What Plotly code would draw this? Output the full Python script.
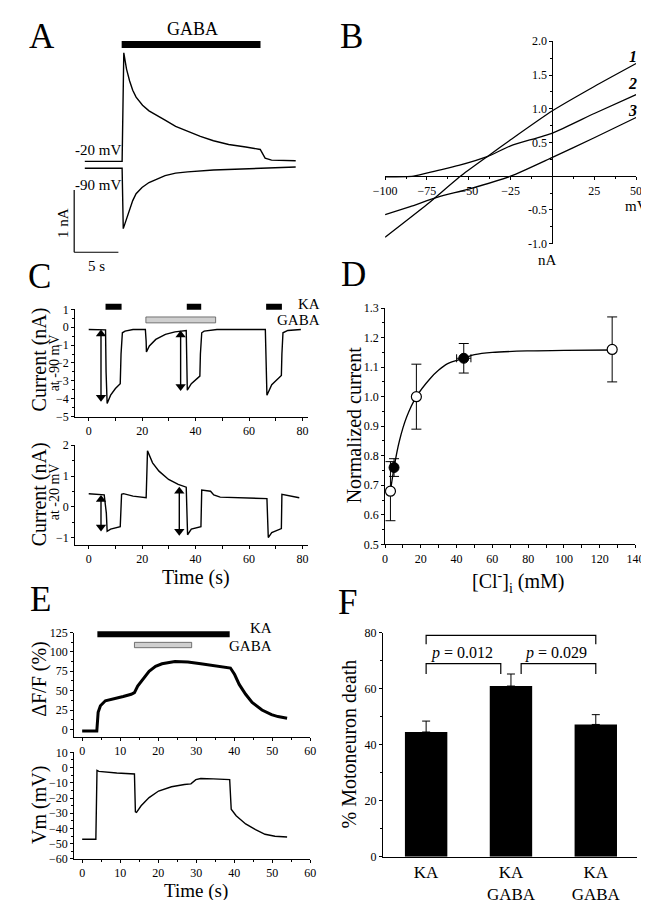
import plotly.graph_objects as go

FONT = "Liberation Serif"
W, H = 649, 900

# ---------------- DATA ----------------
# Panel A: GABA-evoked currents (time s, current nA)
a_t_m20 = [-4.27, -0.05, 0.14, 0.45, 0.80, 1.15, 1.53, 2.26, 2.99, 3.9, 4.81, 6.0, 7.36, 8.8, 10.28, 12.0, 13.93, 15.57, 16.12, 16.85, 19.58]
a_i_m20 = [-0.01, -0.01, 1.73, 1.47, 1.28, 1.13, 1.02, 0.89, 0.80, 0.72, 0.65, 0.55, 0.47, 0.39, 0.32, 0.26, 0.22, 0.18, 0.04, 0.01, 0.0]
a_t_m90 = [-4.27, -0.05, 0.08, 0.44, 0.80, 1.15, 1.53, 2.2, 2.99, 3.9, 4.81, 6.0, 7.36, 10.28, 15.75, 19.58]
a_i_m90 = [-0.12, -0.12, -1.09, -0.93, -0.77, -0.64, -0.53, -0.43, -0.35, -0.29, -0.24, -0.20, -0.18, -0.15, -0.12, -0.10]
a_gaba = [-0.1, 15.6]
a_scale_nA = 1
a_scale_s = 5

# Panel B: I-V curves (mV, nA)
b_v1 = [-100, -75, -55, -39, -25, 0, 25, 50]
b_i1 = [-0.905, -0.42, 0.0, 0.29, 0.54, 0.97, 1.33, 1.67]
b_v2 = [-100, -83, -69.5, -56, -39, -25, 0, 25, 50]
b_i2 = [-0.01, 0.0, 0.08, 0.16, 0.29, 0.45, 0.64, 0.93, 1.21]
b_v3 = [-100, -85, -68.5, -50, -25, 0, 25, 50]
b_i3 = [-0.57, -0.45, -0.31, -0.19, 0.0, 0.28, 0.57, 0.87]

# Panel C: KA currents (time s, nA)
c_t_top = [0, 6.3, 6.5, 6.9, 8.2, 10.0, 11.8, 12.1, 12.6, 13.6, 16.6, 21.2, 21.5, 21.6, 22.7, 25.1, 28.7, 32.3, 36.5,
           36.7, 36.9, 38.4, 40.2, 41.6, 41.8, 42.3, 43.2, 48.0, 66.1, 66.4, 66.7, 68.5, 70.9, 72.1, 72.3, 72.7, 74.5, 79.4]
c_i_top = [-0.13, -0.15, -2.5, -4.26, -3.8, -3.43, -3.16, -1.5, -0.31, -0.22, -0.13, -0.13, -0.8, -1.38, -1.05, -0.68, -0.40, -0.26, -0.18,
           -2.0, -3.52, -3.16, -2.92, -2.73, -1.5, -0.31, -0.22, -0.13, -0.13, -2.0, -3.8, -3.21, -2.84, -2.70, -1.5, -0.31, -0.18, -0.13]
c_t_bot = [0, 5.8, 6.6, 6.9, 8.2, 11.8, 12.3, 13.0, 16.6, 21.5, 21.8, 22.0, 23.9, 26.3, 29.9, 33.5, 36.5,
           36.8, 37.0, 38.4, 42.0, 42.3, 45.6, 46.8, 49.2, 66.7, 66.9, 67.2, 68.5, 69.7, 72.1, 72.3, 74.5, 78.8]
c_i_bot = [0.43, 0.39, -0.2, -0.79, -0.72, -0.64, 0.41, 0.43, 0.35, 0.30, 1.2, 1.82, 1.43, 1.16, 0.89, 0.73, 0.64,
           -0.1, -0.90, -0.72, -0.64, 0.55, 0.51, 0.39, 0.32, 0.27, -0.3, -0.99, -0.83, -0.78, -0.70, 0.41, 0.38, 0.30]
c_ka_on = [6.3, 36.7, 66.4]
c_ka_off = [12.3, 42.1, 72.3]
c_gaba = [21.4, 47.5]
# double-headed measurement arrows (time, arrowhead centres)
c_arrow_t_top = [4.6, 34.4]
c_arrow_top_from = [-0.38, -0.43]
c_arrow_top_to = [-3.92, -3.32]
c_arrow_t_bot = [4.6, 33.9]
c_arrow_bot_from = [0.24, 0.51]
c_arrow_bot_to = [-0.65, -0.79]

# Panel D: normalized current vs [Cl-]i
d_open_x = [3, 17.5, 127]
d_open_y = [0.68, 1.00, 1.16]
d_open_err = [0.10, 0.11, 0.11]
d_fill_x = [5, 44]
d_fill_y = [0.76, 1.13]
d_fill_err = [0.03, 0.05]
d_fill_xerr = [1.5, 4]
d_fit_x = [3, 5, 8, 12, 17.5, 25, 30, 35, 44, 50, 60, 80, 100, 127]
d_fit_y = [0.68, 0.76, 0.85, 0.93, 1.00, 1.06, 1.09, 1.112, 1.13, 1.142, 1.15, 1.155, 1.157, 1.158]

# Panel E: fluorescence and Vm
e_t_f = [0, 3.85, 4.2, 4.8, 6.1, 8.2, 10.8, 12.9, 13.75, 14.6, 15.9, 17.6, 19.3, 21.0, 24.4, 27.8, 31.2, 34.5, 38.0, 39.0,
         40.1, 41.3, 43.0, 44.7, 47.3, 49.8, 51.5, 53.9]
e_f = [-2, -2, 22, 30.5, 36.9, 39, 42.4, 45.3, 47.5, 56, 64.4, 75, 81.4, 84.7, 87.7, 86.9, 84.7, 82.6, 80.5, 79.2,
       70.8, 58, 45.3, 34.7, 25, 19, 16.5, 14.4]
e_t_v = [0, 3.6, 3.9, 4.4, 9.1, 13.75, 14.0, 14.3, 15.5, 17.6, 20.1, 23.5, 26.9, 28.6, 29.9, 31.2, 34.5, 38.8,
         39.2, 40.5, 43.0, 45.6, 48.1, 50.7, 53.9]
e_v = [-47.1, -47.1, -1.85, -2.5, -3.6, -4.2, -29, -29.4, -25.1, -19.7, -15.4, -12.6, -11.1, -10.7, -7.9, -7.2, -7.4, -7.9,
       -27.3, -31.6, -37, -40.8, -43.8, -45.1, -45.6]
e_ka = [4.0, 38.8]
e_gaba = [13.75, 28.8]

# Panel F: motoneuron death
f_labels = ["KA", "KA<br>GABA", "KA<br>GABA"]
f_values = [44.5, 60.9, 47.2]
f_err = [3.9, 4.3, 3.5]
f_pairs = [(0, 2), (0, 0.88), (1.12, 2)]
f_ptext = ["<i>p</i> = 0.649", "<i>p</i> = 0.012", "<i>p</i> = 0.029"]


# ---------------- helpers ----------------
def pxx(x):
    return x / W


def pyy(y):
    return 1 - y / H


BLK = "black"
TF = dict(family=FONT, size=12, color=BLK)


def axis(**kw):
    d = dict(showline=True, linecolor=BLK, linewidth=1, ticks="outside", ticklen=3, tickwidth=1,
             tickcolor=BLK, showgrid=False, zeroline=False, tickfont=TF, fixedrange=True)
    d.update(kw)
    return d


fig = go.Figure()
line = dict(color=BLK, width=1.4)

# Panel A
fig.add_trace(go.Scatter(x=a_t_m20, y=a_i_m20, mode="lines", line=line, xaxis="x", yaxis="y"))
fig.add_trace(go.Scatter(x=a_t_m90, y=a_i_m90, mode="lines", line=line, xaxis="x", yaxis="y"))
# Panel B
for xs, ys in [(b_v1, b_i1), (b_v2, b_i2), (b_v3, b_i3)]:
    fig.add_trace(go.Scatter(x=xs, y=ys, mode="lines", line=dict(color=BLK, width=1.3, shape="spline", smoothing=0.6),
                             xaxis="x2", yaxis="y2"))
# Panel C
fig.add_trace(go.Scatter(x=c_t_top, y=c_i_top, mode="lines", line=line, xaxis="x3", yaxis="y3"))
fig.add_trace(go.Scatter(x=c_t_bot, y=c_i_bot, mode="lines", line=line, xaxis="x4", yaxis="y4"))
for (ts, fr, to, xa, ya) in [(c_arrow_t_top, c_arrow_top_from, c_arrow_top_to, "x3", "y3"),
                             (c_arrow_t_bot, c_arrow_bot_from, c_arrow_bot_to, "x4", "y4")]:
    for t, a, b in zip(ts, fr, to):
        fig.add_trace(go.Scatter(x=[t, t], y=[a, b], mode="lines+markers",
                                 line=dict(color=BLK, width=1.4),
                                 marker=dict(symbol=["triangle-up", "triangle-down"], size=9, color=BLK,
                                             line=dict(width=0)),
                                 xaxis=xa, yaxis=ya))
# Panel D
fig.add_trace(go.Scatter(x=d_fit_x, y=d_fit_y, mode="lines", line=dict(color=BLK, width=1.3, shape="spline", smoothing=0.8),
                         xaxis="x5", yaxis="y5"))
fig.add_trace(go.Scatter(x=d_open_x, y=d_open_y, mode="markers",
                         marker=dict(size=10, color="white", line=dict(color=BLK, width=1.2)),
                         error_y=dict(type="data", array=d_open_err, color=BLK, thickness=1, width=5),
                         xaxis="x5", yaxis="y5"))
fig.add_trace(go.Scatter(x=d_fill_x, y=d_fill_y, mode="markers",
                         marker=dict(size=10, color=BLK, line=dict(color=BLK, width=1)),
                         error_y=dict(type="data", array=d_fill_err, color=BLK, thickness=1, width=5),
                         error_x=dict(type="data", array=d_fill_xerr, color=BLK, thickness=1, width=4),
                         xaxis="x5", yaxis="y5"))
# Panel E
fig.add_trace(go.Scatter(x=e_t_f, y=e_f, mode="lines", line=dict(color=BLK, width=3), xaxis="x6", yaxis="y6"))
fig.add_trace(go.Scatter(x=e_t_v, y=e_v, mode="lines", line=line, xaxis="x7", yaxis="y7"))
# Panel F
fig.add_trace(go.Bar(x=[0, 1, 2], y=f_values, width=0.5, marker=dict(color=BLK, line=dict(width=0)),
                     error_y=dict(type="data", array=f_err, arrayminus=[0, 0, 0], symmetric=False,
                                  color=BLK, thickness=1, width=4),
                     xaxis="x8", yaxis="y8"))

# ---------------- layout ----------------
lay = dict(
    width=W, height=H, margin=dict(l=0, r=0, t=0, b=0), showlegend=False,
    paper_bgcolor="white", plot_bgcolor="rgba(0,0,0,0)",
    font=dict(family=FONT, color=BLK),
)
# A (no visible axes)
lay["xaxis"] = dict(domain=[pxx(40), pxx(300)], range=[-7.22, 21.23], visible=False, anchor="y", fixedrange=True)
lay["yaxis"] = dict(domain=[pyy(265), pyy(10)], range=[-1.848, 2.18], visible=False, anchor="x", fixedrange=True)
# B
lay["xaxis2"] = axis(domain=[pxx(377.3), pxx(636.7)], range=[-100, 50], anchor="free", position=pyy(163.9),
                     tickmode="array", tickvals=[-100, -75, -50, -25, 25, 50],
                     minor=dict(dtick=12.5, tick0=0, ticklen=2, ticks="outside", tickcolor=BLK))
lay["yaxis2"] = axis(domain=[pyy(232.3), pyy(26.7)], range=[-1, 2], anchor="free", position=pxx(550.2),
                     tickmode="array", tickvals=[-1, -0.5, 0.5, 1, 1.5, 2],
                     ticktext=["-1.0", "-0.5", "0.5", "1.0", "1.5", "2.0"],
                     minor=dict(dtick=0.25, tick0=0, ticklen=2, ticks="outside", tickcolor=BLK))
# C top
lay["xaxis3"] = axis(domain=[pxx(57), pxx(298)], range=[-5.07, 82.2], anchor="y3", tickvals=[0, 20, 40, 60, 80],
                     minor=dict(dtick=10, tick0=0, ticklen=3, ticks="outside", tickcolor=BLK))
lay["yaxis3"] = axis(domain=[pyy(408), pyy(299)], range=[-5, 1], anchor="x3", dtick=1,
                     minor=dict(dtick=0.5, ticklen=2, ticks="outside", tickcolor=BLK))
# C bottom
lay["xaxis4"] = axis(domain=[pxx(57), pxx(298)], range=[-5.07, 82.2], anchor="y4", tickvals=[0, 20, 40, 60, 80],
                     minor=dict(dtick=10, tick0=0, ticklen=3, ticks="outside", tickcolor=BLK))
lay["yaxis4"] = axis(domain=[pyy(538), pyy(437)], range=[-1.22, 2], anchor="x4", tickvals=[-1, 0, 1, 2],
                     minor=dict(dtick=0.5, tick0=0, ticklen=2, ticks="outside", tickcolor=BLK))
# D
lay["xaxis5"] = axis(domain=[pxx(377.3), pxx(636)], range=[0, 140], anchor="y5", dtick=20,
                     minor=dict(dtick=10, ticklen=3, ticks="outside", tickcolor=BLK))
lay["yaxis5"] = axis(domain=[pyy(537.7), pyy(297.7)], range=[0.5, 1.3], anchor="x5", dtick=0.1, tickformat=".1f",
                     minor=dict(dtick=0.05, tick0=0.5, ticklen=2, ticks="outside", tickcolor=BLK))
# E top
lay["xaxis6"] = axis(domain=[pxx(56), pxx(300)], range=[-2.1, 60], anchor="y6", dtick=10,
                     minor=dict(dtick=5, ticklen=2, ticks="outside", tickcolor=BLK))
lay["yaxis6"] = axis(domain=[pyy(733.3), pyy(627.3)], range=[-9.7, 125], anchor="x6",
                     tickvals=[0, 25, 50, 75, 100, 125],
                     minor=dict(dtick=12.5, tick0=0, ticklen=2, ticks="outside", tickcolor=BLK))
# E bottom
lay["xaxis7"] = axis(domain=[pxx(56), pxx(300)], range=[-2.1, 60], anchor="y7", dtick=10,
                     minor=dict(dtick=5, ticklen=2, ticks="outside", tickcolor=BLK))
lay["yaxis7"] = axis(domain=[pyy(857.3), pyy(749)], range=[-60, 10], anchor="x7", dtick=10,
                     minor=dict(dtick=5, ticklen=2, ticks="outside", tickcolor=BLK))
# F
lay["xaxis8"] = axis(domain=[pxx(375), pxx(638)], range=[-0.51, 2.49], anchor="y8", tickvals=[0, 1, 2],
                     ticktext=f_labels, ticks="", ticklabelstandoff=0,
                     tickfont=dict(family=FONT, size=17, color=BLK))
lay["yaxis8"] = axis(domain=[pyy(855), pyy(627.3)], range=[0, 80], anchor="x8", dtick=20,
                     minor=dict(dtick=10, ticklen=2, ticks="outside", tickcolor=BLK))
fig.update_layout(**lay)

shapes = []
ann = []


def text(x, y, s, size, xref="paper", yref="paper", angle=0, xanchor="center", yanchor="middle"):
    ann.append(dict(x=x, y=y, xref=xref, yref=yref, text=s, showarrow=False, textangle=angle,
                    font=dict(family=FONT, size=size, color=BLK), xanchor=xanchor, yanchor=yanchor))


# Panel letters
for L, x, y in [("A", 22.5, 22), ("B", 343, 21.5), ("C", 20, 266), ("D", 345, 264), ("E", 21, 594), ("F", 338, 597)]:
    text(pxx(x), pyy(y), L, 35)

# ---- A decorations
shapes.append(dict(type="rect", xref="x", yref="y", x0=a_gaba[0], x1=a_gaba[1], y0=1.81, y1=1.92,
                   fillcolor=BLK, line=dict(width=0)))
sb_x0, sb_y0 = -5.47, -1.469
shapes.append(dict(type="line", xref="x", yref="y", x0=sb_x0, x1=sb_x0, y0=sb_y0, y1=sb_y0 + a_scale_nA,
                   line=dict(color=BLK, width=1.2)))
shapes.append(dict(type="line", xref="x", yref="y", x0=sb_x0, x1=sb_x0 + a_scale_s, y0=sb_y0, y1=sb_y0,
                   line=dict(color=BLK, width=1.2)))
text(pxx(178), pyy(14), "GABA", 18)
text(pxx(81), pyy(136.7), "-20 mV", 15)
text(pxx(81), pyy(173), "-90 mV", 15)
text(pxx(45), pyy(211.7), "1 nA", 15, angle=-90)
text(pxx(79), pyy(255), "5 s", 15)

# ---- B labels
text(pxx(637), pyy(194), "mV", 15)
text(pxx(545), pyy(249), "nA", 15)
for lab, yv in [("1", 1.78), ("2", 1.37), ("3", 0.98)]:
    text(48, yv, "<b><i>" + lab + "</i></b>", 16, xref="x2", yref="y2")

# ---- C decorations
for on, off in zip(c_ka_on, c_ka_off):
    shapes.append(dict(type="rect", xref="x3", yref="y3 domain", x0=on, x1=off, y0=0.997, y1=1.052,
                       fillcolor=BLK, line=dict(width=0)))
shapes.append(dict(type="rect", xref="x3", yref="y3 domain", x0=c_gaba[0], x1=c_gaba[1], y0=0.874, y1=0.929,
                   fillcolor="#cfcfcf", line=dict(color="#555555", width=0.8)))
text(pxx(312), pyy(294), "KA", 15, xanchor="right")
text(pxx(312), pyy(309.5), "GABA", 15, xanchor="right")
text(pxx(20.5), pyy(350), "Current (nA)", 20, angle=-90)
text(pxx(36), pyy(353), "at -90 mV", 14, angle=-90)
text(pxx(20.5), pyy(487), "Current (nA)", 20, angle=-90)
text(pxx(36), pyy(484), "at -20 mV", 14, angle=-90)
text(pxx(182), pyy(571), "Time (s)", 20)

# ---- D labels
text(pxx(345), pyy(417), "Normalized current", 20, angle=-90)
text(pxx(515), pyy(576), "[Cl<sup>-</sup>]<sub>i</sub> (mM)", 20)

# ---- E decorations
shapes.append(dict(type="rect", xref="x6", yref="y6 domain", x0=e_ka[0], x1=e_ka[1], y0=0.956, y1=1.012,
                   fillcolor=BLK, line=dict(width=0)))
shapes.append(dict(type="rect", xref="x6", yref="y6 domain", x0=e_gaba[0], x1=e_gaba[1], y0=0.855, y1=0.906,
                   fillcolor="#cfcfcf", line=dict(color="#555555", width=0.8)))
text(pxx(263), pyy(622.7), "KA", 15, xanchor="right")
text(pxx(263), pyy(641), "GABA", 15, xanchor="right")
text(pxx(20), pyy(674), "ΔF/F (%)", 20, angle=-90)
text(pxx(20), pyy(802), "Vm (mV)", 20, angle=-90)
text(pxx(182), pyy(890), "Time (s)", 19)

# ---- F decorations
br_h = [(79.0, 75.8), (68.9, 65.2), (68.9, 65.2)]
for (x0, x1), (yh, yl) in zip(f_pairs, br_h):
    shapes.append(dict(type="path", xref="x8", yref="y8",
                       path=f"M {x0},{yl} L {x0},{yh} L {x1},{yh} L {x1},{yl}",
                       line=dict(color=BLK, width=1.2)))
text(0.975, 83.2, f_ptext[0], 16, xref="x8", yref="y8")
text(0.42, 72.7, f_ptext[1], 16, xref="x8", yref="y8")
text(1.53, 72.7, f_ptext[2], 16, xref="x8", yref="y8")
text(pxx(340), pyy(740), "% Motoneuron death", 20, angle=-90)

fig.update_layout(shapes=shapes, annotations=ann)
fig.write_html("out.html")
